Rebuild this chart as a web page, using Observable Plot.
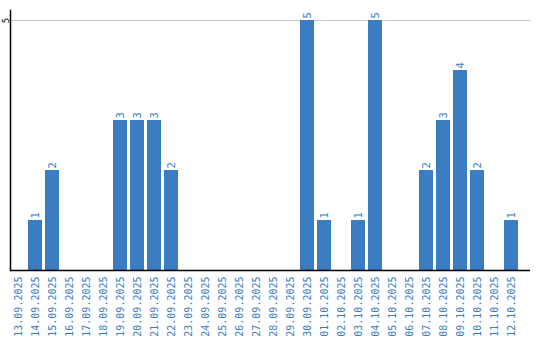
<!DOCTYPE html>
<html>
<head>
<meta charset="utf-8">
<script src="https://cdn.jsdelivr.net/npm/d3@7"></script>
<script src="https://cdn.jsdelivr.net/npm/@observablehq/plot@0.6"></script>
<style>
  html, body { margin: 0; padding: 0; background: #fff; }
  #chart svg { display: block; }
</style>
</head>
<body>
<div id="chart"></div>
<script>
const dates = [
  "13.09.2025","14.09.2025","15.09.2025","16.09.2025","17.09.2025","18.09.2025",
  "19.09.2025","20.09.2025","21.09.2025","22.09.2025","23.09.2025","24.09.2025",
  "25.09.2025","26.09.2025","27.09.2025","28.09.2025","29.09.2025","30.09.2025",
  "01.10.2025","02.10.2025","03.10.2025","04.10.2025","05.10.2025","06.10.2025",
  "07.10.2025","08.10.2025","09.10.2025","10.10.2025","11.10.2025","12.10.2025"
];
const counts = [0,1,2,0,0,0,3,3,3,2,0,0,0,0,0,0,0,5,1,0,1,5,0,0,2,3,4,2,0,1];
const yTicks = [5];

const data = dates.map((d, i) => ({date: d, value: counts[i]}));
const blue = "#3b7dc3";

const chart = Plot.plot({
  width: 540,
  height: 340,
  marginTop: 10,
  marginLeft: 10,
  marginRight: 10,
  marginBottom: 70,
  style: {fontFamily: "DejaVu Sans Mono", fontSize: "10px", background: "#fff"},
  x: {domain: dates, range: [11, 519], paddingInner: 3/17, paddingOuter: 0, align: 0},
  y: {domain: [0, 5.2], range: [270, 10]},
  marks: [
    Plot.ruleY(yTicks, {stroke: "#c8c8c8", strokeWidth: 1}),
    Plot.barY(data, {x: "date", y: "value", fill: blue}),
    Plot.text(data.filter(d => d.value > 0), {
      x: "date", y: "value", text: d => String(d.value),
      rotate: -90, textAnchor: "start", dy: -2,
      fill: blue, fontSize: 10.5, lineAnchor: "middle"
    }),
    Plot.axisX({
      tickSize: 0, tickRotate: -90, tickPadding: 6, fill: blue,
      fontSize: 10, label: null, textAnchor: "end"
    }),
    Plot.axisY(yTicks, {
      tickSize: 0, tickRotate: -90, tickPadding: 2, fontSize: 9,
      fill: "#000", label: null, textAnchor: "middle", tickFormat: d => String(d)
    }),
    Plot.frame({anchor: "left", stroke: "#000", strokeWidth: 1.5}),
    Plot.ruleY([0], {stroke: "#000", strokeWidth: 1.5})
  ]
});

document.getElementById("chart").appendChild(chart);
</script>
</body>
</html>
